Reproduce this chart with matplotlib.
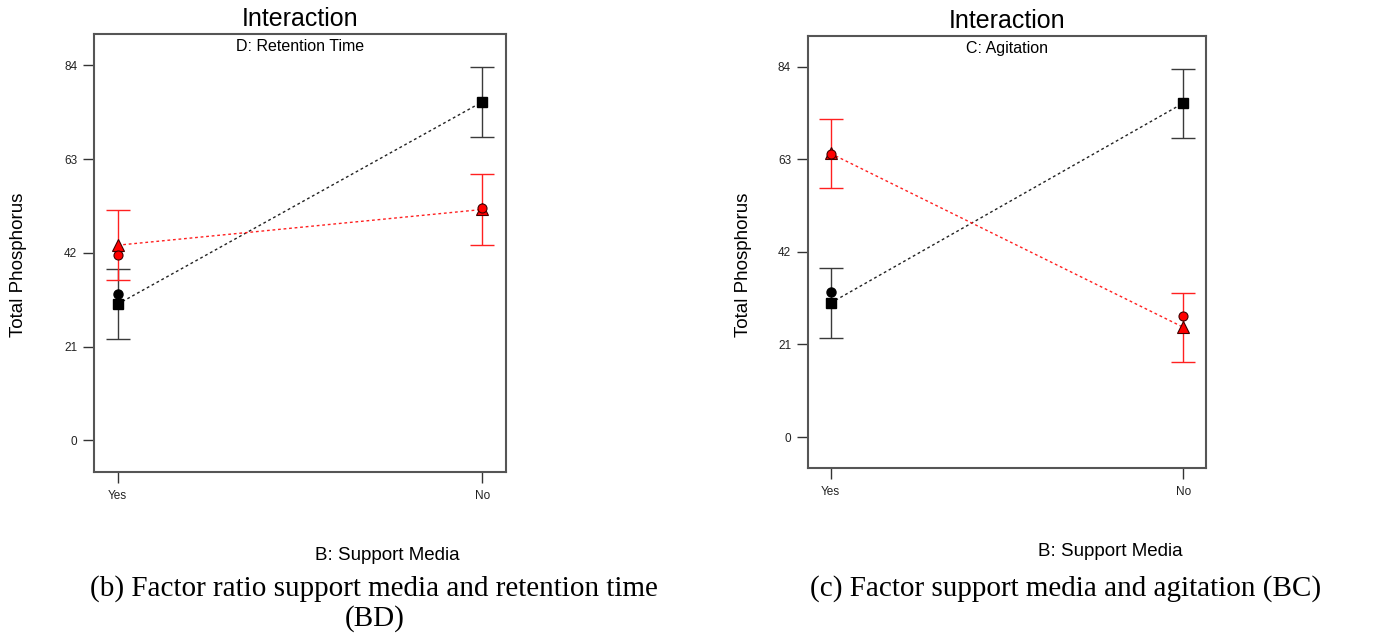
import numpy as np
import matplotlib
matplotlib.use("Agg")
import matplotlib.pyplot as plt

# ---- data ----
categories = ["Yes", "No"]
yticks = [0, 21, 42, 63, 84]

# Panel (b): B x D
bd_black_pred = [30.5, 75.8]
bd_black_err = [7.9, 7.85]
bd_black_pts = [32.8, np.nan]
bd_red_pred = [43.7, 51.7]
bd_red_err = [7.85, 7.9]
bd_red_pts = [41.4, 52.1]

# Panel (c): B x C
bc_black_pred = [30.4, 75.7]
bc_black_err = [7.9, 7.85]
bc_black_pts = [32.8, np.nan]
bc_red_pred = [64.3, 24.9]
bc_red_err = [7.9, 7.85]
bc_red_pts = [64.2, 27.5]

SANS = "Liberation Sans"
SERIF = "Liberation Serif"

fig = plt.figure(figsize=(13.86, 6.37), dpi=100)


def draw_panel(rect, subtitle, bp, be, bpts, rp, re, rpts):
    ax = fig.add_axes(rect)
    x = np.arange(len(categories))
    ax.errorbar(x, bp, yerr=be, fmt="none", ecolor="#3a3a3a", elinewidth=1.0,
                capsize=8.5, capthick=1.0, zorder=2)
    ax.errorbar(x, rp, yerr=re, fmt="none", ecolor="#ff2020", elinewidth=1.0,
                capsize=8.5, capthick=1.0, zorder=2)
    ax.plot(x, bp, linestyle=(0, (2, 2)), color="#222222", lw=1.0, zorder=3)
    ax.plot(x, rp, linestyle=(0, (2, 2)), color="#ff2020", lw=1.0, zorder=3)
    ax.plot(x, bp, linestyle="none", marker="s", ms=7, mfc="black",
            mec="black", zorder=4)
    ax.plot(x, rp, linestyle="none", marker="^", ms=8, mfc="red",
            mec="#400000", mew=0.8, zorder=4)
    ax.plot(x, bpts, linestyle="none", marker="o", ms=6.5, mfc="black",
            mec="black", zorder=5)
    ax.plot(x, rpts, linestyle="none", marker="o", ms=6.5, mfc="red",
            mec="#400000", mew=0.8, zorder=5)
    ax.set_xlim(-0.065, 1.065)
    ax.set_ylim(-7.1, 91)
    ax.set_yticks(yticks)
    ax.set_yticklabels([str(v) for v in yticks], fontsize=8.5, family=SANS,
                       color="#222222")
    ax.set_xticks(x)
    ax.set_xticklabels(categories, fontsize=8.5, family=SANS, color="#222222")
    ax.tick_params(axis="both", direction="out", length=8, width=1.0,
                   color="#333333")
    ax.tick_params(axis="y", pad=4)
    ax.tick_params(axis="x", pad=5)
    for s in ax.spines.values():
        s.set_color("#555555")
        s.set_linewidth(1.5)
    ax.text(0.5, 0.988, subtitle, transform=ax.transAxes, ha="center",
            va="top", fontsize=11.5, family=SANS)
    return ax


ax1 = draw_panel([0.0678, 0.259, 0.2973, 0.6876], "D: Retention Time",
                 bd_black_pred, bd_black_err, bd_black_pts,
                 bd_red_pred, bd_red_err, bd_red_pts)
ax2 = draw_panel([0.5828, 0.2648, 0.2874, 0.6791], "C: Agitation",
                 bc_black_pred, bc_black_err, bc_black_pts,
                 bc_red_pred, bc_red_err, bc_red_pts)

# titles
fig.text(300 / 1386, 1 - 19 / 637, "Interaction", ha="center", va="center",
         fontsize=18, family=SANS)
fig.text(1007 / 1386, 1 - 21 / 637, "Interaction", ha="center", va="center",
         fontsize=18, family=SANS)

# y labels
fig.text(19 / 1386, 1 - 265 / 637, "Total Phosphorus", rotation=90,
         ha="center", va="center", fontsize=13.5, family=SANS)
fig.text(744 / 1386, 1 - 265 / 637, "Total Phosphorus", rotation=90,
         ha="center", va="center", fontsize=13.5, family=SANS)

# x labels
fig.text(387 / 1386, 1 - 555 / 637, "B: Support Media", ha="center",
         va="center", fontsize=13.5, family=SANS)
fig.text(1110 / 1386, 1 - 552 / 637, "B: Support Media", ha="center",
         va="center", fontsize=13.5, family=SANS)

# captions
fig.text(374 / 1386, 1 - 589 / 637,
         "(b) Factor ratio support media and retention time", ha="center",
         va="center", fontsize=21, family=SERIF)
fig.text(375 / 1386, 1 - 619 / 637, "(BD)", ha="center", va="center",
         fontsize=21, family=SERIF)
fig.text(1066 / 1386, 1 - 589 / 637,
         "(c) Factor support media and agitation (BC)", ha="center",
         va="center", fontsize=21, family=SERIF)

fig.savefig("out.png", dpi=100, facecolor="white")
